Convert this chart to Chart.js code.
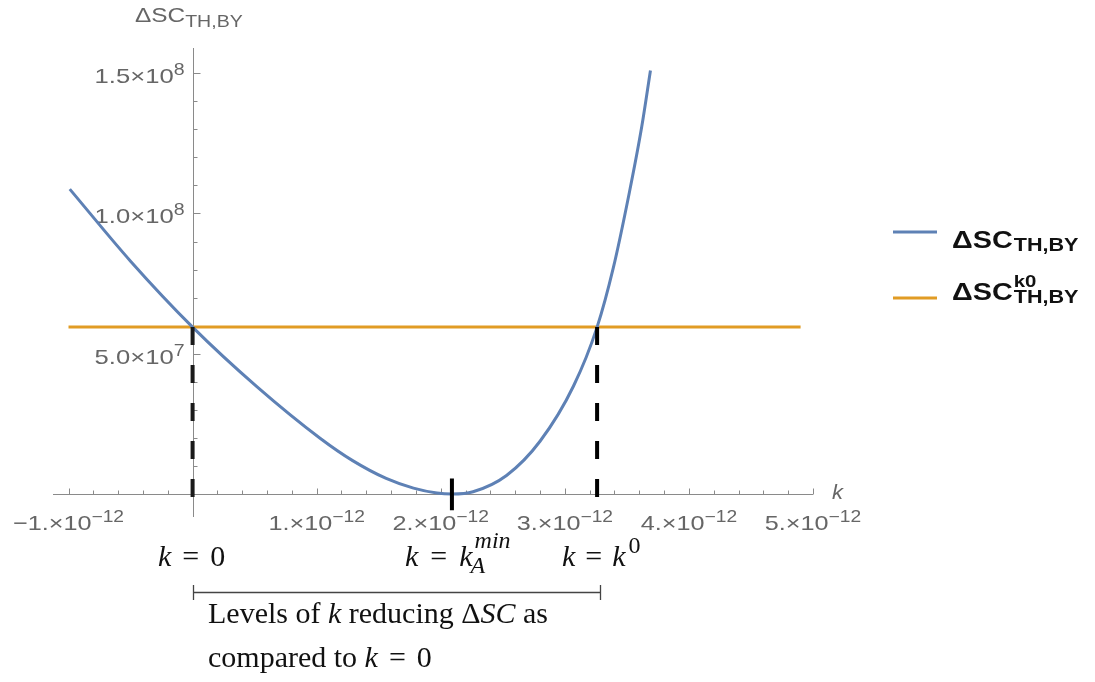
<!DOCTYPE html>
<html>
<head>
<meta charset="utf-8">
<title>ΔSC vs k</title>
<script src="https://cdn.jsdelivr.net/npm/chart.js@4.4.1/dist/chart.umd.min.js"></script>
<style>
  body { margin: 0; background: #ffffff; }
  canvas { display: block; }
</style>
</head>
<body>
<canvas id="chart" width="1095" height="682"></canvas>
<script>
// values
const kValues = [-0.99e-12, -0.5e-12, 0, 0.52e-12, 1.03e-12, 1.29e-12, 1.56e-12, 1.78e-12, 1.97e-12, 2.09e-12,
                 2.26e-12, 2.53e-12, 2.80e-12, 3.07e-12, 3.26e-12, 3.39e-12, 3.52e-12, 3.62e-12, 3.69e-12];
const dscValues = [1.087e8, 8.30e7, 5.95e7, 3.82e7, 1.98e7, 1.19e7, 5.55e6, 2.1e6, 3.5e5, 0,
                   8e5, 6.6e6, 1.88e7, 3.85e7, 5.95e7, 8.05e7, 1.075e8, 1.31e8, 1.51e8];
const refK = [-1.0e-12, 4.9e-12];      // ΔSC^k0 drawn over this k range
const refValue = 5.95e7;               // ΔSC at k = 0
const kMin = 2.09e-12;                 // k_A^min
const kZero = 3.26e-12;                // k^0

// tick labels
const xTickValues = [-1e-12, 1e-12, 2e-12, 3e-12, 4e-12, 5e-12];
const xTickMantissas = ['−1.', '1.', '2.', '3.', '4.', '5.'];
const xTickExponents = ['−12', '−12', '−12', '−12', '−12', '−12'];
const yTickValues = [5e7, 1e8, 1.5e8];
const yTickMantissas = ['5.0', '1.0', '1.5'];
const yTickExponents = ['7', '8', '8'];
const xMinorStep = 0.2e-12;
const yMinorStep = 1e7;

const BLUE = '#5E81B5';
const ORANGE = '#E19C24';
const AXIS = '#8a8a8a';
const LABEL = '#666666';
const SANS = '"Liberation Sans", Arial, sans-serif';
const SERIF = '"Liberation Serif", "Times New Roman", serif';

// draws a row of text pieces (for sub/superscripts); sx stretches horizontally
function drawRuns(ctx, x, y, runs, align, sx, color) {
  ctx.save();
  ctx.fillStyle = color;
  ctx.textBaseline = 'alphabetic';
  ctx.textAlign = 'left';
  let total = 0;
  runs.forEach(r => {
    ctx.font = r.font;
    r.w = ctx.measureText(r.text).width * sx + (r.gap || 0);
    total += r.w;
  });
  let cx = align === 'right' ? x - total : align === 'center' ? x - total / 2 : x;
  runs.forEach(r => {
    ctx.font = r.font;
    ctx.save();
    ctx.translate(cx + (r.gap || 0), y + (r.dy || 0));
    ctx.scale(sx, 1);
    ctx.fillText(r.text, 0, 0);
    ctx.restore();
    cx += r.w;
  });
  ctx.restore();
  return cx;
}

const axesPlugin = {
  id: 'mmaAxes',
  beforeDatasetsDraw(chart) {
    const { ctx, chartArea: a, scales: { x, y } } = chart;
    const x0 = Math.round(x.getPixelForValue(0)) + 0.5;
    const y0 = Math.round(y.getPixelForValue(0)) + 0.5;
    ctx.save();
    ctx.strokeStyle = AXIS;
    ctx.lineWidth = 1;
    ctx.beginPath();
    ctx.moveTo(a.left, y0); ctx.lineTo(a.right, y0);
    ctx.moveTo(x0, a.top); ctx.lineTo(x0, a.bottom);
    // x ticks pointing up
    for (let i = Math.ceil(x.min / xMinorStep); i <= Math.floor(x.max / xMinorStep + 1e-6); i++) {
      if (i === 0) continue;
      const px = Math.round(x.getPixelForValue(i * xMinorStep)) + 0.5;
      const len = i % 5 === 0 ? 6 : 4;
      ctx.moveTo(px, y0); ctx.lineTo(px, y0 - len);
    }
    // y ticks pointing right
    for (let j = 1; j <= Math.floor(y.max / yMinorStep); j++) {
      const py = Math.round(y.getPixelForValue(j * yMinorStep)) + 0.5;
      const len = j % 5 === 0 ? 7 : 4;
      ctx.moveTo(x0, py); ctx.lineTo(x0 + len, py);
    }
    ctx.stroke();
    ctx.restore();

    xTickValues.forEach((v, i) => {
      drawRuns(ctx, x.getPixelForValue(v), y0 + 35, [
        { text: xTickMantissas[i] + '×10', font: `21px ${SANS}` },
        { text: xTickExponents[i], font: `16px ${SANS}`, dy: -8 }
      ], 'center', 1.2, LABEL);
    });
    yTickValues.forEach((v, i) => {
      drawRuns(ctx, x0 - 9, y.getPixelForValue(v) + 10, [
        { text: yTickMantissas[i] + '×10', font: `21px ${SANS}` },
        { text: yTickExponents[i], font: `16px ${SANS}`, dy: -8 }
      ], 'right', 1.22, LABEL);
    });
    // axis names
    drawRuns(ctx, 135, 22, [
      { text: 'ΔSC', font: `20px ${SANS}` },
      { text: 'TH,BY', font: `16px ${SANS}`, dy: 5 }
    ], 'left', 1.22, LABEL);
    drawRuns(ctx, 832, 499, [{ text: 'k', font: `italic 20px ${SANS}` }], 'left', 1.1, LABEL);
  },
  afterDraw(chart) {
    const { ctx } = chart;
    // legend
    ctx.save();
    ctx.lineWidth = 3;
    ctx.strokeStyle = BLUE;
    ctx.beginPath(); ctx.moveTo(893, 232); ctx.lineTo(937, 232); ctx.stroke();
    ctx.strokeStyle = ORANGE;
    ctx.beginPath(); ctx.moveTo(893, 298); ctx.lineTo(937, 298); ctx.stroke();
    ctx.restore();
    drawRuns(ctx, 952, 248, [
      { text: 'ΔSC', font: `bold 24px ${SANS}` },
      { text: 'TH,BY', font: `bold 18px ${SANS}`, dy: 3, gap: 1 }
    ], 'left', 1.2, '#111');
    const sx2 = drawRuns(ctx, 952, 300, [{ text: 'ΔSC', font: `bold 24px ${SANS}` }], 'left', 1.2, '#111');
    drawRuns(ctx, sx2 + 1, 287, [{ text: 'k0', font: `bold 17px ${SANS}` }], 'left', 1.2, '#111');
    drawRuns(ctx, sx2 + 1, 303, [{ text: 'TH,BY', font: `bold 18px ${SANS}` }], 'left', 1.2, '#111');

    // annotations below the axis
    const it = `italic 30px ${SERIF}`, rm = `30px ${SERIF}`;
    const itS = `italic 24px ${SERIF}`, rmS = `24px ${SERIF}`;
    const ink = '#111';
    drawRuns(ctx, 158, 566, [
      { text: 'k', font: it }, { text: '=', font: rm, gap: 11 }, { text: '0', font: rm, gap: 11 }
    ], 'left', 1, ink);
    const kA = drawRuns(ctx, 405, 566, [
      { text: 'k', font: it }, { text: '=', font: rm, gap: 12 }, { text: 'k', font: it, gap: 12 }
    ], 'left', 1, ink);
    drawRuns(ctx, kA + 2, 548, [{ text: 'min', font: itS }], 'left', 1, ink);
    drawRuns(ctx, kA - 2, 573, [{ text: 'A', font: itS }], 'left', 1, ink);
    const k0 = drawRuns(ctx, 562, 566, [
      { text: 'k', font: it }, { text: '=', font: rm, gap: 10 }, { text: 'k', font: it, gap: 10 }
    ], 'left', 1, ink);
    drawRuns(ctx, k0 + 3, 553, [{ text: '0', font: rmS }], 'left', 1, ink);

    ctx.save();
    ctx.strokeStyle = '#444';
    ctx.lineWidth = 1.3;
    ctx.beginPath();
    ctx.moveTo(193, 592.5); ctx.lineTo(601, 592.5);
    ctx.moveTo(193.5, 585); ctx.lineTo(193.5, 600);
    ctx.moveTo(600.5, 585); ctx.lineTo(600.5, 600);
    ctx.stroke();
    ctx.restore();

    drawRuns(ctx, 208, 623, [
      { text: 'Levels of ', font: rm }, { text: 'k', font: it }, { text: ' reducing Δ', font: rm },
      { text: 'SC', font: it }, { text: ' as', font: rm }
    ], 'left', 1, ink);
    drawRuns(ctx, 208, 667, [
      { text: 'compared to ', font: rm }, { text: 'k', font: it },
      { text: '=', font: rm, gap: 11 }, { text: '0', font: rm, gap: 11 }
    ], 'left', 1, ink);
  }
};

const pts = (xs, ys) => xs.map((v, i) => ({ x: v, y: ys[i] }));

new Chart(document.getElementById('chart'), {
  type: 'line',
  data: {
    datasets: [
      { label: 'k = 0', data: pts([0, 0], [refValue, -1.1e6]), borderColor: '#1a1a1a', borderWidth: 4,
        borderDash: [18, 20], pointRadius: 0, clip: false },
      { label: 'k = k0', data: pts([kZero, kZero], [refValue, -1.1e6]), borderColor: '#000', borderWidth: 4,
        borderDash: [18, 20], pointRadius: 0, clip: false },
      { label: 'k min', data: pts([kMin, kMin], [5.5e6, -5.8e6]), borderColor: '#000', borderWidth: 4,
        pointRadius: 0, clip: false },
      { label: 'ΔSC TH,BY', data: pts(kValues, dscValues), borderColor: BLUE, borderWidth: 3,
        pointRadius: 0, cubicInterpolationMode: 'monotone', fill: false },
      { label: 'ΔSC k0 TH,BY', data: pts(refK, [refValue, refValue]), borderColor: ORANGE, borderWidth: 3,
        pointRadius: 0, fill: false }
    ]
  },
  options: {
    responsive: false,
    animation: false,
    layout: { padding: { left: 53, right: 282, top: 48, bottom: 165 } },
    scales: {
      x: { type: 'linear', min: -1.125e-12, max: 5.0e-12, display: false },
      y: { type: 'linear', min: -8.2e6, max: 1.59e8, display: false }
    },
    plugins: { legend: { display: false }, tooltip: { enabled: false } }
  },
  plugins: [axesPlugin]
});
</script>
</body>
</html>
